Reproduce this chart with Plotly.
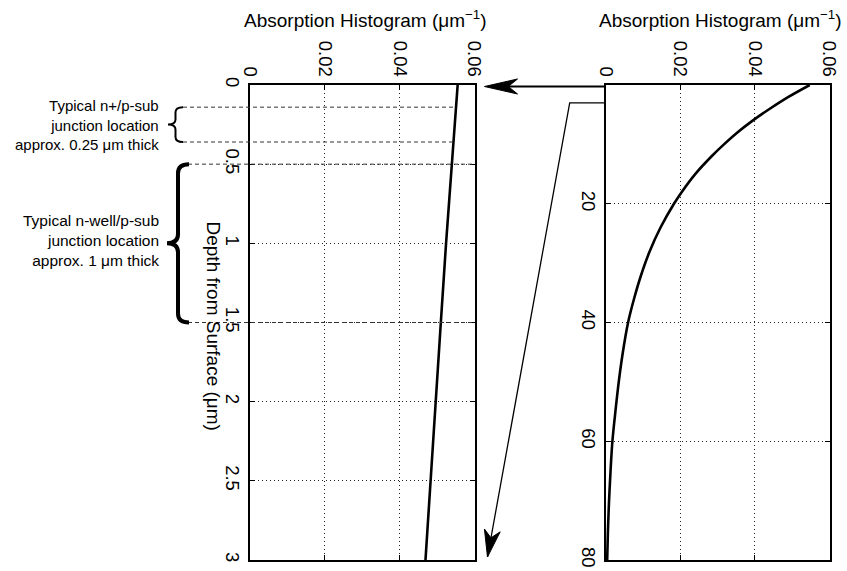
import numpy as np
import plotly.graph_objects as go

# ---------------- data ----------------
left_depth = [0, 0.5, 1.0, 1.5, 2.0, 2.5, 3.0]
left_abs = [0.0555, 0.0539, 0.0524, 0.0510, 0.0496, 0.0482, 0.0469]

right_depth = [0, 2, 4, 6, 8, 10, 12, 15, 18, 20, 24, 28, 32, 36, 40,
               45, 50, 55, 60, 65, 70, 75, 80]
right_abs = [0.0547, 0.0490, 0.0440, 0.0394, 0.0353, 0.0317, 0.0284, 0.0240,
             0.0204, 0.0183, 0.0147, 0.0118, 0.0095, 0.0076, 0.0060,
             0.0046, 0.0035, 0.0026, 0.0018, 0.0013, 0.0009, 0.0006, 0.0004]

abs_ticks = [0, 0.02, 0.04, 0.06]
abs_ticktext = ["0", "0.02", "0.04", "0.06"]
left_depth_ticks = [0, 0.5, 1, 1.5, 2, 2.5, 3]
left_depth_ticktext = ["0", "0.5", "1", "1.5", "2", "2.5", "3"]
right_depth_ticks = [20, 40, 60, 80]
right_depth_ticktext = ["20", "40", "60", "80"]

nplus_junction = [0.14, 0.36]     # depth (um)
nwell_junction = [0.5, 1.5]       # depth (um)

x_title = "Absorption Histogram (μm<sup>−1</sup>)"
y_title = "Depth from Surface (μm)"
label_nplus = "Typical n+/p-sub<br>junction location<br>approx. 0.25 μm thick"
label_nwell = "Typical n-well/p-sub<br>junction location<br>approx. 1 μm thick"

# ---------------- layout geometry ----------------
W, H = 847, 571
LX0, LX1 = 250.0, 474.5
RX0, RX1 = 605.7, 829.5
PY0, PY1 = 85.0, 560.0
ABS_MAX = 0.06
LDEPTH_MAX, RDEPTH_MAX = 3.0, 80.0
FONT = "Liberation Sans, Arial, Helvetica, sans-serif"


def px2paper(px, py):
    return px / W, 1 - py / H


def left_px(val, depth):
    return LX0 + val / ABS_MAX * (LX1 - LX0), PY0 + depth / LDEPTH_MAX * (PY1 - PY0)


def right_px(val, depth):
    return RX0 + val / ABS_MAX * (RX1 - RX0), PY0 + depth / RDEPTH_MAX * (PY1 - PY0)


def path_from_px(points, close=False):
    parts = []
    for i, (px, py) in enumerate(points):
        x, y = px2paper(px, py)
        parts.append(("M" if i == 0 else "L") + f"{x:.5f},{y:.5f}")
    return " ".join(parts) + (" Z" if close else "")


def brace_path(xr, xl, yt, yb, curl):
    xm = (xr + xl) / 2
    ym = (yt + yb) / 2

    def P(px, py):
        x, y = px2paper(px, py)
        return f"{x:.5f},{y:.5f}"
    return (f"M{P(xr, yt)} Q{P(xm, yt)} {P(xm, yt + curl)} "
            f"L{P(xm, ym - curl)} Q{P(xm, ym)} {P(xl, ym)} "
            f"Q{P(xm, ym)} {P(xm, ym + curl)} "
            f"L{P(xm, yb - curl)} Q{P(xm, yb)} {P(xr, yb)}")


def arrow_head(tip, tail, L, Wd, notch=0.72):
    tx, ty = tip
    dx, dy = tip[0] - tail[0], tip[1] - tail[1]
    n = (dx * dx + dy * dy) ** 0.5
    ux, uy = dx / n, dy / n
    pxv, pyv = -uy, ux
    bx, by = tx - L * ux, ty - L * uy
    p1 = (bx + Wd / 2 * pxv, by + Wd / 2 * pyv)
    p2 = (bx - Wd / 2 * pxv, by - Wd / 2 * pyv)
    nn = (tx - notch * L * ux, ty - notch * L * uy)
    return path_from_px([tip, p1, nn, p2], close=True)


fig = go.Figure()
fig.add_trace(go.Scatter(x=left_abs, y=left_depth, mode="lines",
                         line=dict(color="black", width=2.6),
                         xaxis="x", yaxis="y", showlegend=False))
fig.add_trace(go.Scatter(x=right_abs, y=right_depth, mode="lines",
                         line=dict(color="black", width=2.6, shape="spline"),
                         xaxis="x2", yaxis="y2", showlegend=False))

axis_style = dict(showline=True, linecolor="black", linewidth=1.6, mirror="ticks",
                  ticks="inside", ticklen=5, tickwidth=1.3, tickcolor="black",
                  showgrid=True, gridcolor="#222", gridwidth=1, griddash="1px,3px",
                  zeroline=False, tickangle=90, automargin=False,
                  tickfont=dict(family=FONT, size=18.5, color="black"))

ydom = [1 - PY1 / H, 1 - PY0 / H]
fig.update_layout(
    width=W, height=H, margin=dict(l=0, r=0, t=0, b=0, autoexpand=False),
    paper_bgcolor="white", plot_bgcolor="white", showlegend=False,
    xaxis=dict(domain=[LX0 / W, LX1 / W], range=[0, ABS_MAX], side="top", anchor="y",
               tickvals=abs_ticks, ticktext=abs_ticktext, **axis_style),
    yaxis=dict(domain=ydom, range=[LDEPTH_MAX, 0], anchor="x",
               tickvals=left_depth_ticks, ticktext=left_depth_ticktext, **axis_style),
    xaxis2=dict(domain=[RX0 / W, RX1 / W], range=[0, ABS_MAX], side="top", anchor="y2",
                tickvals=abs_ticks, ticktext=abs_ticktext, **axis_style),
    yaxis2=dict(domain=ydom, range=[RDEPTH_MAX, 0], anchor="x2",
                tickvals=right_depth_ticks, ticktext=right_depth_ticktext, **axis_style),
)

shapes = []
# junction dashed lines
for d in nplus_junction:
    v = float(np.interp(d, left_depth, left_abs))
    xe, ye = left_px(v, d)
    shapes.append(dict(type="path", xref="paper", yref="paper",
                       path=path_from_px([(183, ye), (xe, ye)]),
                       line=dict(color="#333", width=1, dash="4px,3px")))
for d in nwell_junction:
    xe, ye = left_px(ABS_MAX, d)
    shapes.append(dict(type="path", xref="paper", yref="paper",
                       path=path_from_px([(188, ye), (xe, ye)]),
                       line=dict(color="#333", width=1, dash="4px,3px")))

# braces
_, yt1 = left_px(0, nplus_junction[0])
_, yb1 = left_px(0, nplus_junction[1])
shapes.append(dict(type="path", xref="paper", yref="paper",
                   path=brace_path(183, 168, yt1, yb1, 5),
                   line=dict(color="black", width=2)))
_, yt2 = left_px(0, nwell_junction[0])
_, yb2 = left_px(0, nwell_junction[1])
shapes.append(dict(type="path", xref="paper", yref="paper",
                   path=brace_path(189, 167, yt2, yb2, 9),
                   line=dict(color="black", width=4)))

# arrow 1: right panel surface -> left panel surface
r0x, r0y = right_px(0, 0)
l0x, l0y = left_px(ABS_MAX, 0)
tip1 = (l0x + 10, r0y + 1.5)
tail1 = (r0x, r0y + 1.5)
shapes.append(dict(type="path", xref="paper", yref="paper",
                   path=path_from_px([tail1, (tip1[0] + 20, tip1[1])]),
                   line=dict(color="black", width=2.2)))
shapes.append(dict(type="path", xref="paper", yref="paper",
                   path=arrow_head(tip1, tail1, 33, 15),
                   fillcolor="black", line=dict(color="black", width=1)))

# arrow 2: right panel depth 3 um -> left panel bottom (3 um)
r3x, r3y = right_px(0, LDEPTH_MAX)
l3x, l3y = left_px(ABS_MAX, LDEPTH_MAX)
corner = (r3x - 36, r3y)
tip2 = (l3x + 13, l3y - 3)
shapes.append(dict(type="path", xref="paper", yref="paper",
                   path=path_from_px([(r3x, r3y), corner, tip2]),
                   line=dict(color="black", width=1.3)))
shapes.append(dict(type="path", xref="paper", yref="paper",
                   path=arrow_head(tip2, corner, 27, 16),
                   fillcolor="black", line=dict(color="black", width=1)))
fig.update_layout(shapes=shapes)

ann = []
for cx in [(LX0 + LX1) / 2, (RX0 + RX1) / 2]:
    x, y = px2paper(cx + 3, 19)
    ann.append(dict(x=x, y=y, xref="paper", yref="paper", text=x_title, showarrow=False,
                    xanchor="center", yanchor="middle",
                    font=dict(family=FONT, size=19, color="black")))
x, y = px2paper(213, (PY0 + PY1) / 2 + 3)
ann.append(dict(x=x, y=y, xref="paper", yref="paper", text=y_title, showarrow=False,
                textangle=90, xanchor="center", yanchor="middle",
                font=dict(family=FONT, size=19, color="black")))
x, y = px2paper(161, (yt1 + yb1) / 2)
ann.append(dict(x=x, y=y, xref="paper", yref="paper", text=label_nplus, showarrow=False,
                xanchor="right", yanchor="middle", align="right",
                font=dict(family=FONT, size=15, color="black")))
x, y = px2paper(161, (yt2 + yb2) / 2 - 3)
ann.append(dict(x=x, y=y, xref="paper", yref="paper", text=label_nwell, showarrow=False,
                xanchor="right", yanchor="middle", align="right",
                font=dict(family=FONT, size=15.5, color="black")))
fig.update_layout(annotations=ann)

fig.write_html("out.html")
